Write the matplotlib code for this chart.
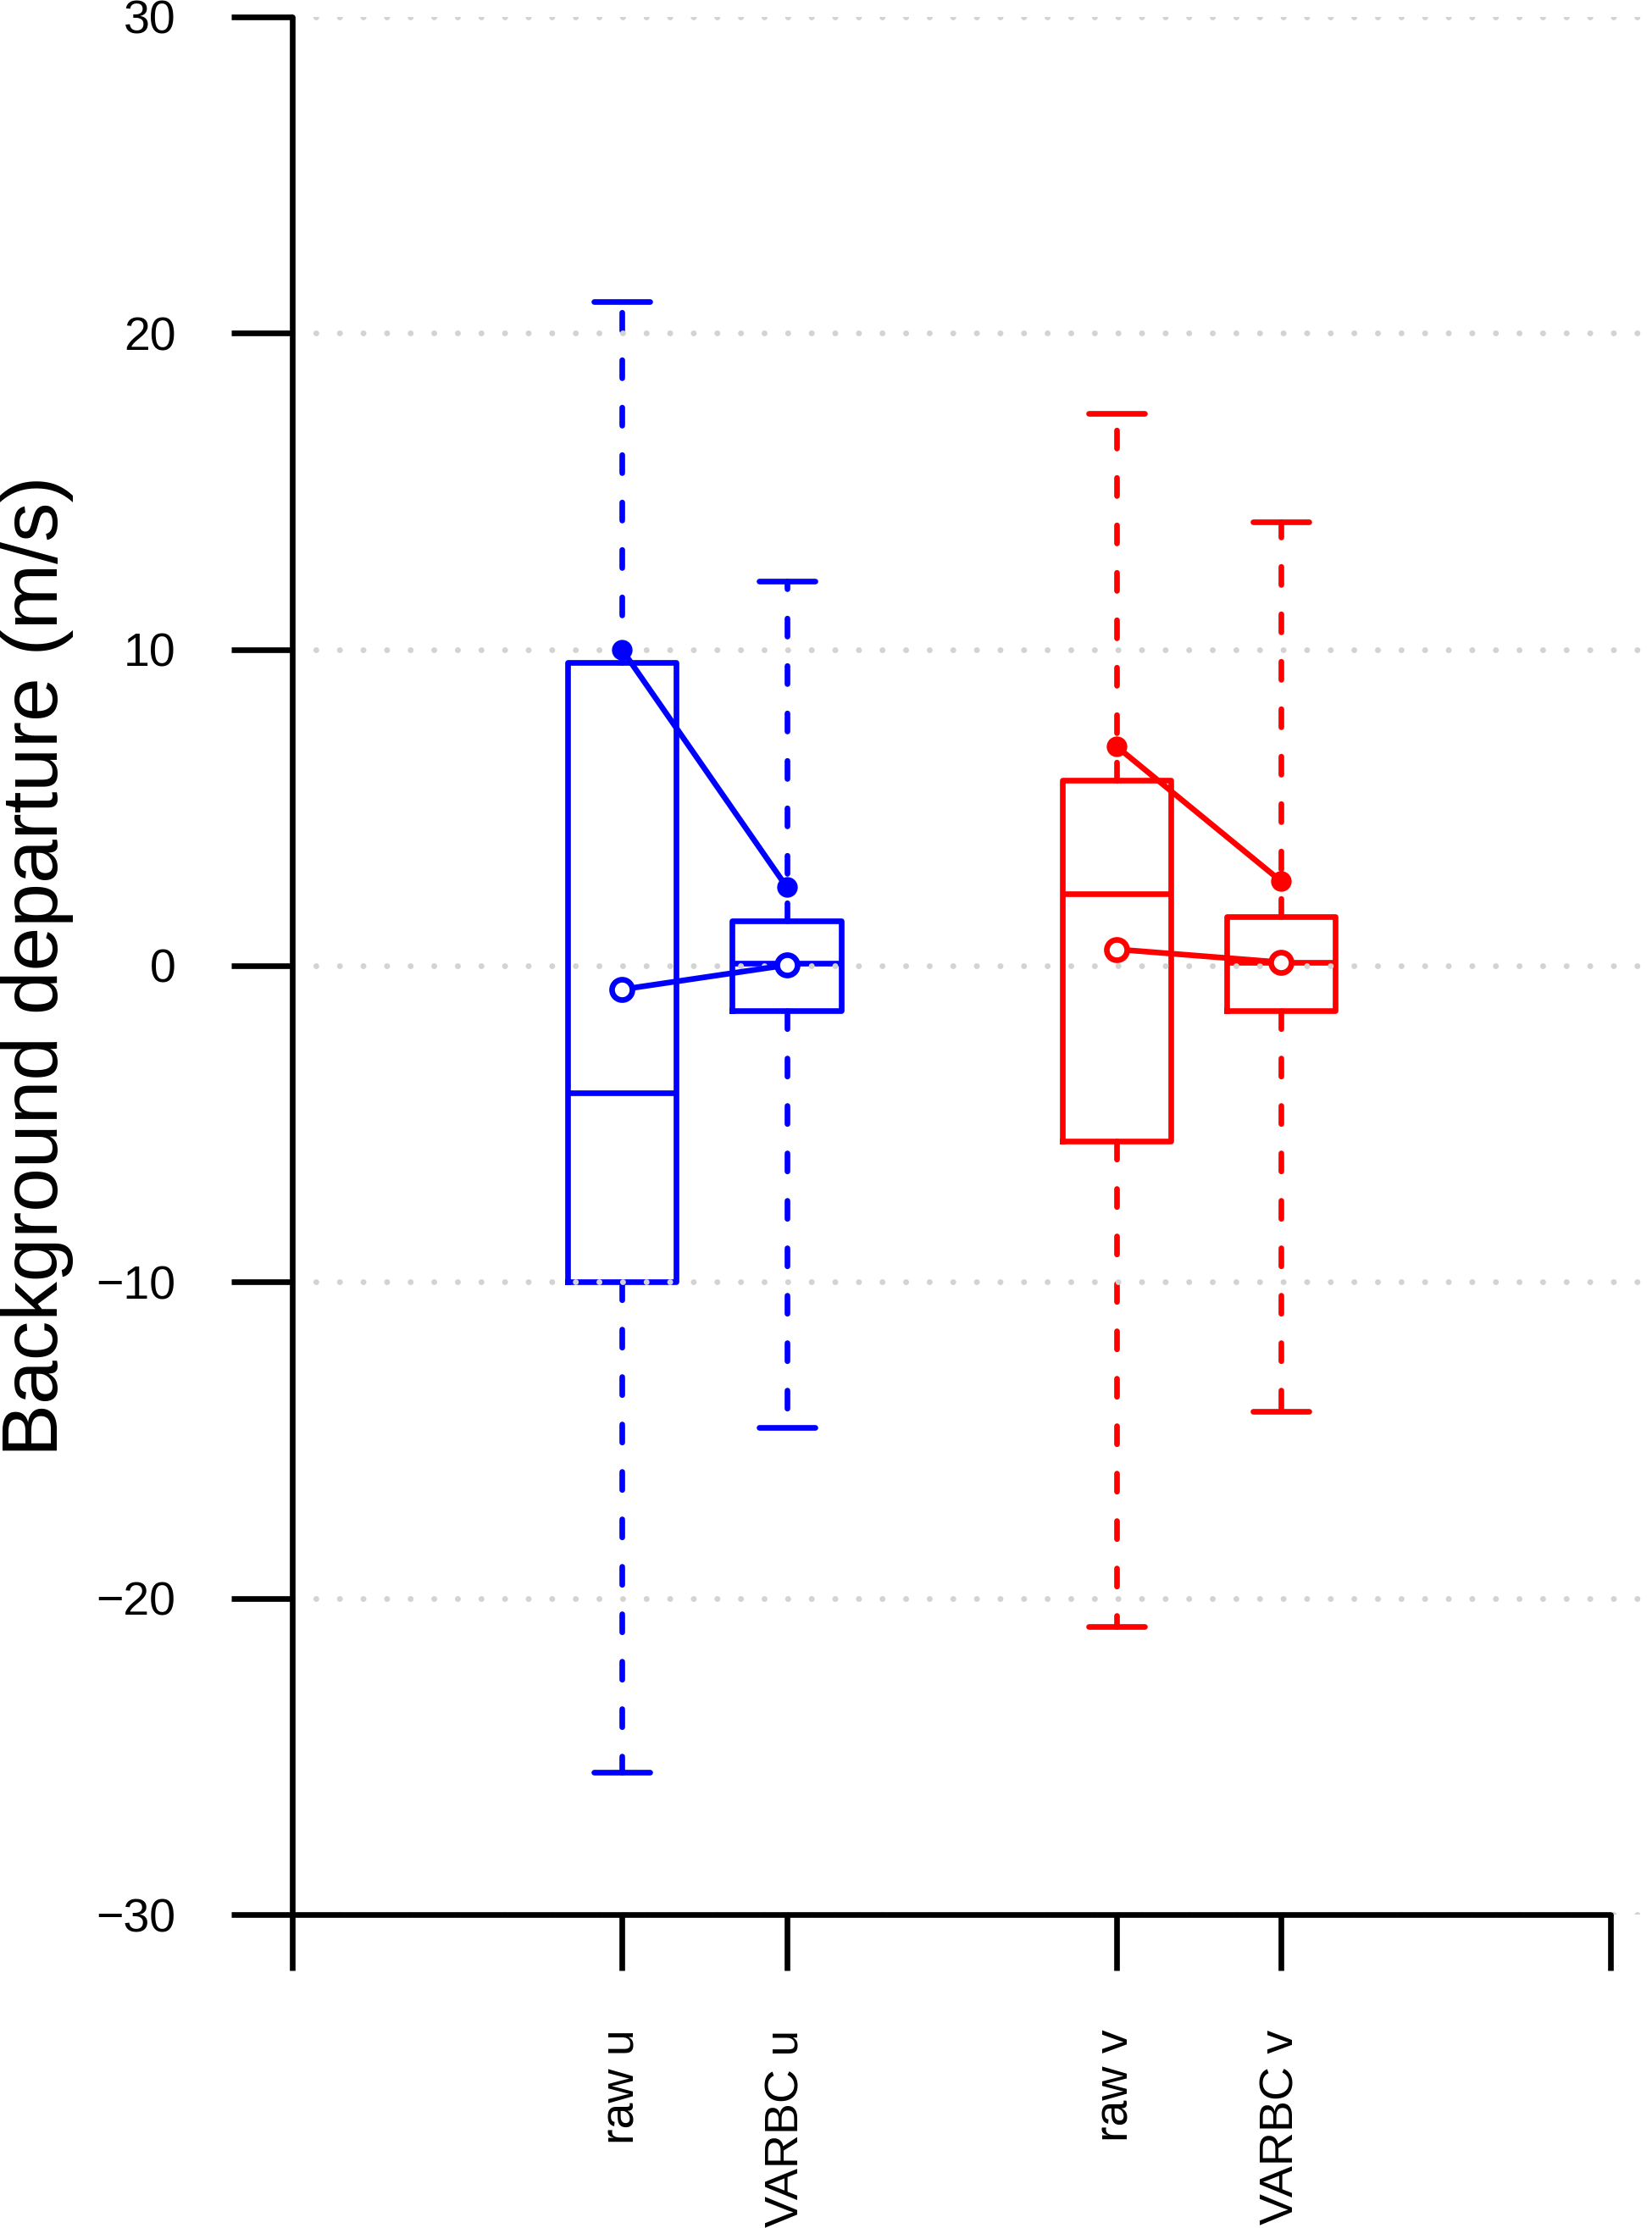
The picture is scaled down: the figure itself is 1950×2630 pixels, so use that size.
import numpy as np
import matplotlib
matplotlib.use('Agg')
import matplotlib.pyplot as plt

plt.rcParams['font.family'] = ['Liberation Sans', 'DejaVu Sans']

# Box statistics
labels = ['raw u', 'VARBC u', 'raw v', 'VARBC v']
positions = [2, 3, 5, 6]
colors = ['blue', 'blue', 'red', 'red']
whis_lo = [-25.5, -14.6, -20.9, -14.1]
q1 = [-10.0, -1.42, -5.55, -1.42]
med = [-4.02, 0.07, 2.27, 0.10]
q3 = [9.6, 1.42, 5.87, 1.55]
whis_hi = [21.0, 12.16, 17.46, 14.04]
means = [-0.75, 0.02, 0.52, 0.11]
sds = [10.0, 2.49, 6.94, 2.67]

LW = 4.8
fig = plt.figure(figsize=(19.5, 26.3), dpi=100)
ax = fig.add_axes([0.1769, 0.14068, 1 - 0.1769, 0.85172])

dash = (0, (3.2, 5.2))
for i in range(len(labels)):
    st = [dict(whislo=whis_lo[i], q1=q1[i], med=med[i], q3=q3[i], whishi=whis_hi[i], fliers=[])]
    c = colors[i]
    ax.bxp(st, positions=[positions[i]], widths=0.66, capwidths=0.34, showfliers=False,
           boxprops=dict(color=c, lw=LW, solid_joinstyle='round'),
           medianprops=dict(color=c, lw=LW),
           whiskerprops=dict(color=c, lw=LW, linestyle=dash, dash_capstyle='round'),
           capprops=dict(color=c, lw=LW, solid_capstyle='round'),
           manage_ticks=False)

# dotted grid, drawn over the boxes
for y in [-30, -20, -10, 0, 10, 20, 30]:
    ax.axhline(y, color='#d3d3d3', lw=5, linestyle=(0, (0.01, 4)),
               dash_capstyle='round', zorder=2.5)

# std dev (filled) and mean (open) points, joined per variable
for j, c in [(0, 'blue'), (2, 'red')]:
    xs = positions[j:j + 2]
    ax.plot(xs, sds[j:j + 2], color=c, lw=LW, marker='o', ms=17.5, mew=0, zorder=3)
    ax.plot(xs, means[j:j + 2], color=c, lw=LW, marker='o', ms=17.3, mew=LW,
            mfc='white', mec=c, zorder=3)

ax.set_xlim(0, 8.25)
ax.set_ylim(-30, 30)
for s in ['top', 'right']:
    ax.spines[s].set_visible(False)
ax.spines['left'].set_bounds(-30, 30)
ax.spines['bottom'].set_bounds(0, 8)
for s in ['left', 'bottom']:
    ax.spines[s].set_linewidth(LW)
    ax.spines[s].set_capstyle('round')

ax.set_yticks([-30, -20, -10, 0, 10, 20, 30])
ax.set_xticks([0] + positions + [8])
ax.set_xticklabels([''] + labels + [''], rotation=90, va='top', ha='center')
ax.tick_params(axis='y', length=52, width=LW, pad=47, labelsize=40)
ax.tick_params(axis='x', length=47.5, width=LW, pad=50, labelsize=40)

fig.text(44 / 1950, 0.5665, 'Background departure (m/s)', rotation=90,
         ha='center', va='center', fontsize=67)

fig.savefig('out.png', dpi=100)
